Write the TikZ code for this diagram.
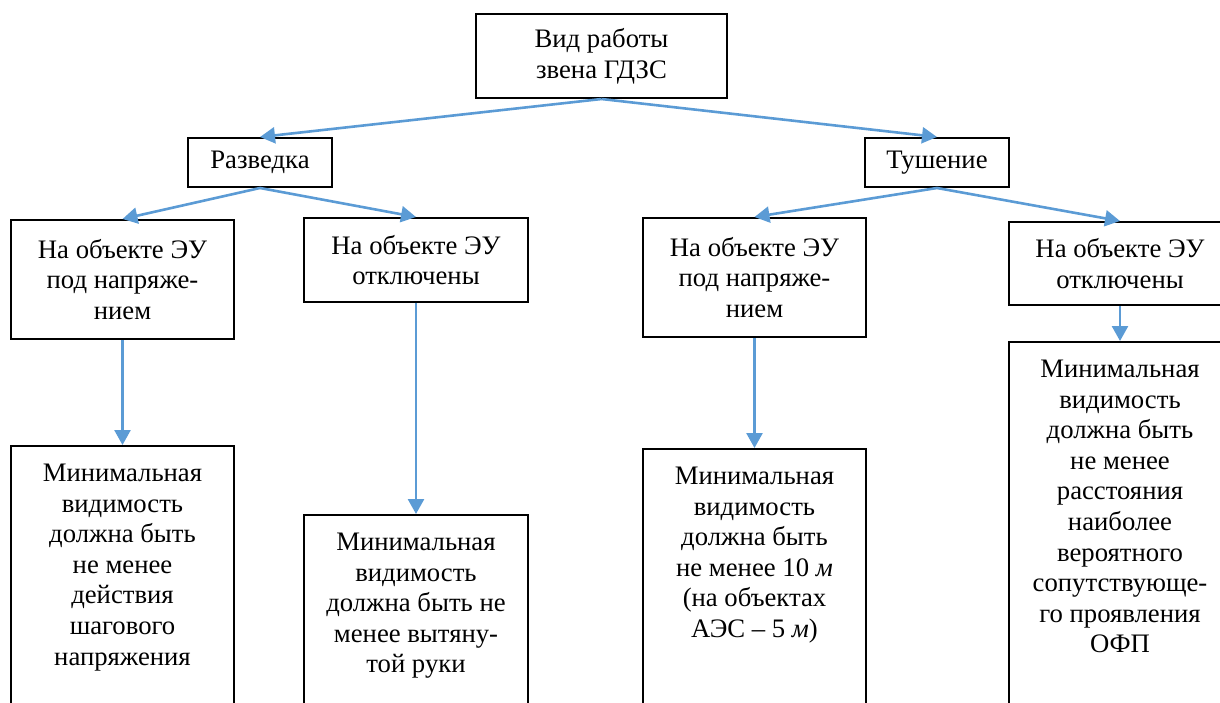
\documentclass[tikz,border=0pt]{standalone}
\usepackage{fontspec}
\setmainfont{Liberation Serif}
\usetikzlibrary{arrows.meta}
\definecolor{linkblue}{HTML}{5B9BD5}
\tikzset{
  box/.style={draw, line width=2pt, align=center, inner sep=0pt},
  tallbox/.style={box, anchor=north, inner ysep=18pt, text depth=420pt, minimum width=223pt},
  arr/.style={draw=linkblue, line width=2.6pt, -{Triangle[width=16pt,length=15pt]}}
}
\begin{document}
\begin{tikzpicture}[x=1pt, y=-1pt, font=\fontsize{26.7}{30.6}\selectfont]
      \useasboundingbox (0,0) rectangle (1220,702);
      \clip (0,0) rectangle (1220,702);

      % 'vid'
      \node[box, minimum width=251pt, minimum height=84pt] at (601.5,56) (vid) {Вид работы\\звена ГДЗС};

      % 'razv' and 'tush'
      \node[box, minimum width=144pt, minimum height=49pt] at (260,162.5) (razv) {Разведка};
      \node[box, minimum width=144pt, minimum height=49pt] at (937,162.5) (tush) {Тушение};
      \draw[arr] (vid.south) -- (razv.north);
      \draw[arr] (vid.south) -- (tush.north);

      % 'razv' branch
      \node[box, minimum width=223pt, minimum height=119pt] at (122.5,279.5) (rnap) {На объекте ЭУ\\под напряже-\\нием};
      \node[box, minimum width=224pt, minimum height=84pt] at (416,260) (rotk) {На объекте ЭУ\\отключены};
      \draw[arr] (razv.south) -- (rnap.north);
      \draw[arr] (razv.south) -- (rotk.north);

      % 'tush' branch
      \node[box, minimum width=223pt, minimum height=119pt] at (754.5,277.5) (tnap) {На объекте ЭУ\\под напряже-\\нием};
      \node[box, minimum width=222pt, minimum height=83pt] at (1120,263.5) (totk) {На объекте ЭУ\\отключены};
      \draw[arr] (tush.south) -- (tnap.north);
      \draw[arr] (tush.south) -- (totk.north);

      % 'min' boxes
      \node[tallbox] at (122.5,445) (rnapmin) {Минимальная\\видимость\\должна быть\\не менее\\действия\\шагового\\напряжения};
      \draw[arr] (rnap.south) -- (rnapmin.north);

      \node[tallbox, minimum width=224pt] at (416,514) (rotkmin) {Минимальная\\видимость\\должна быть не\\менее вытяну-\\той руки};
      \draw[arr] (rotk.south) -- (rotkmin.north);

      \node[tallbox] at (754.5,448) (tnapmin) {Минимальная\\видимость\\должна быть\\не менее 10 \textit{м}\\(на объектах\\АЭС -- 5 \textit{м})};
      \draw[arr] (tnap.south) -- (tnapmin.north);

      \node[tallbox, minimum width=222pt] at (1120,341) (totkmin) {Минимальная\\видимость\\должна быть\\не менее\\расстояния\\наиболее\\вероятного\\сопутствующе-\\го проявления\\ОФП};
      \draw[arr] (totk.south) -- (totkmin.north);
    \end{tikzpicture}
\end{document}
